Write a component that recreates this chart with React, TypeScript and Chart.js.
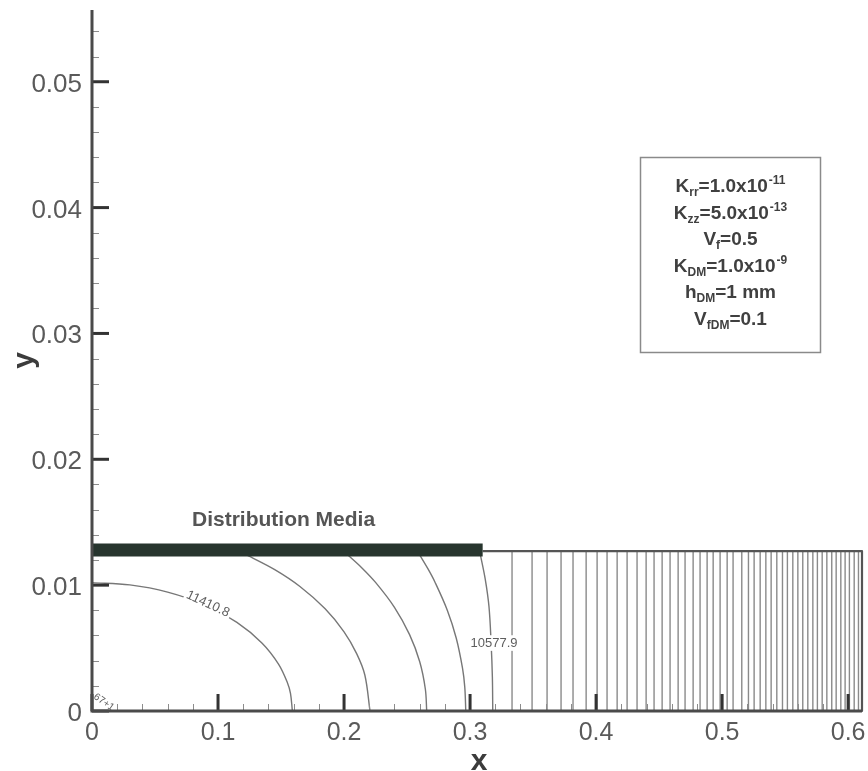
import React, { useEffect, useRef } from "react";
import { Chart, registerables } from "chart.js";

Chart.register(...registerables);

// Axis ranges (metres)
const X_MAX = 0.611;
const Y_MAX = 0.0557;

const X_TICKS = [0, 0.1, 0.2, 0.3, 0.4, 0.5, 0.6];
const X_TICK_LABELS = ["0", "0.1", "0.2", "0.3", "0.4", "0.5", "0.6"];
const Y_TICKS = [0, 0.01, 0.02, 0.03, 0.04, 0.05];
const Y_TICK_LABELS = ["0", "0.01", "0.02", "0.03", "0.04", "0.05"];
const X_MINOR_STEP = 0.02;
const Y_MINOR_STEP = 0.002;

// Part geometry
const PREFORM_TOP = 0.0127;
const DM_LENGTH = 0.31;
const DM_LEVEL = 0.0128;

// Isobars under the distribution media: [x, y]
const ISOBAR_11410 = [
  [0, 0.0102], [0.03, 0.01002], [0.06, 0.00945], [0.09, 0.00841], [0.115, 0.00704],
  [0.135, 0.00539], [0.148, 0.00373], [0.155, 0.00227], [0.1575, 0.0014], [0.159, 0],
];
const ISOBAR_2 = [
  [0.1227, 0.0124], [0.145, 0.01123], [0.165, 0.00989], [0.185, 0.00812], [0.2, 0.00629],
  [0.21, 0.00456], [0.2165, 0.00286], [0.2206, 0],
];
const ISOBAR_3 = [
  [0.203, 0.0124], [0.214, 0.01139], [0.225, 0.01022], [0.24, 0.00824], [0.252, 0.00607],
  [0.26, 0.00393], [0.2645, 0.00175], [0.2656, 0],
];
const ISOBAR_4 = [
  [0.26, 0.0124], [0.2665, 0.01131], [0.272, 0.01027], [0.282, 0.00799], [0.289, 0.0058],
  [0.294, 0.0034], [0.2958, 0.0019], [0.2966, 0],
];
const ISOBAR_10577 = [
  [0.308, 0.0125], [0.312, 0.0105], [0.315, 0.0083], [0.3167, 0.0054], [0.3177, 0.0027], [0.318, 0],
];

// Through-thickness isobars ahead of the media tip (x positions)
const FRONT_ISOBARS_X = [
  0.3333, 0.3492, 0.3611, 0.3722, 0.3817, 0.3921, 0.4008, 0.4087, 0.4167, 0.4246,
  0.4325, 0.4397, 0.446, 0.4524, 0.4587, 0.4651, 0.4706, 0.477, 0.4825, 0.4881,
  0.4929, 0.4984, 0.504, 0.5087, 0.5156, 0.5209, 0.5254, 0.5302, 0.5347, 0.5389,
  0.5434, 0.5479, 0.5518, 0.5561, 0.5601, 0.564, 0.568, 0.572, 0.5756, 0.5794,
  0.5831, 0.587, 0.5905, 0.5942, 0.5976, 0.601, 0.6048, 0.6082,
];

// Material parameters box: [symbol, subscript, value, superscript]
const PARAM_LINES = [
  ["K", "rr", "=1.0x10", "-11"],
  ["K", "zz", "=5.0x10", "-13"],
  ["V", "f", "=0.5", ""],
  ["K", "DM", "=1.0x10", "-9"],
  ["h", "DM", "=1 mm", ""],
  ["V", "fDM", "=0.1", ""],
];

const FONT = '"Liberation Sans", Arial, Helvetica, sans-serif';
const CONTOUR_COLOR = "#777777";
const AXIS_COLOR = "#4a4a4a";

const toPts = (arr: number[][]) => arr.map(([x, y]) => ({ x, y }));

const curve = (pts: number[][]) => ({
  data: toPts(pts),
  borderColor: CONTOUR_COLOR,
  borderWidth: 1.4,
  tension: 0.35,
  showLine: true,
  pointRadius: 0,
  clip: false as const,
  order: 3,
});

function drawLabel(ctx: CanvasRenderingContext2D, text: string, px: number, py: number, angle: number, size: number) {
  ctx.save();
  ctx.translate(px, py);
  ctx.rotate(angle);
  ctx.font = `${size}px ${FONT}`;
  const w = ctx.measureText(text).width;
  ctx.fillStyle = "#ffffff";
  ctx.fillRect(-w / 2 - 2, -size * 0.6, w + 4, size * 1.2);
  ctx.fillStyle = "#5e5e5e";
  ctx.textAlign = "center";
  ctx.textBaseline = "middle";
  ctx.fillText(text, 0, 0);
  ctx.restore();
}

const decorPlugin = {
  id: "decor",
  afterDatasetsDraw(chart: any) {
    const { ctx, scales } = chart;
    const xs = scales.x;
    const ys = scales.y;
    drawLabel(ctx, "11410.8", xs.getPixelForValue(0.092), ys.getPixelForValue(0.0085), 0.44, 13);
    drawLabel(ctx, "10577.9", xs.getPixelForValue(0.319), ys.getPixelForValue(0.0054), 0, 13);
    drawLabel(ctx, "67+1", xs.getPixelForValue(0.0095), ys.getPixelForValue(0.0007), 0.6, 10);
  },
  afterDraw(chart: any) {
    const { ctx, scales } = chart;
    const xs = scales.x;
    const ys = scales.y;
    const x0 = xs.getPixelForValue(0);
    const y0 = ys.getPixelForValue(0);
    ctx.save();

    // minor ticks
    ctx.strokeStyle = "#8c8c8c";
    ctx.lineWidth = 1;
    for (let v = Y_MINOR_STEP; v < Y_MAX; v += Y_MINOR_STEP) {
      if (Math.abs(v / 0.01 - Math.round(v / 0.01)) < 1e-6) continue;
      const py = Math.round(ys.getPixelForValue(v)) + 0.5;
      ctx.beginPath();
      ctx.moveTo(x0, py);
      ctx.lineTo(x0 + 7, py);
      ctx.stroke();
    }
    for (let v = X_MINOR_STEP; v < X_MAX; v += X_MINOR_STEP) {
      if (Math.abs(v / 0.1 - Math.round(v / 0.1)) < 1e-6) continue;
      const px = Math.round(xs.getPixelForValue(v)) + 0.5;
      ctx.beginPath();
      ctx.moveTo(px, y0);
      ctx.lineTo(px, y0 - 7);
      ctx.stroke();
    }

    // major ticks
    ctx.strokeStyle = "#333333";
    ctx.lineWidth = 3;
    Y_TICKS.forEach((v) => {
      const py = ys.getPixelForValue(v);
      ctx.beginPath();
      ctx.moveTo(x0, py);
      ctx.lineTo(x0 + 17, py);
      ctx.stroke();
    });
    X_TICKS.forEach((v) => {
      const px = xs.getPixelForValue(v);
      ctx.beginPath();
      ctx.moveTo(px, y0);
      ctx.lineTo(px, y0 - 17);
      ctx.stroke();
    });

    // axis lines
    ctx.strokeStyle = AXIS_COLOR;
    ctx.lineWidth = 3;
    ctx.beginPath();
    ctx.moveTo(x0, ys.getPixelForValue(Y_MAX));
    ctx.lineTo(x0, y0);
    ctx.lineTo(xs.getPixelForValue(X_MAX), y0);
    ctx.stroke();

    // tick labels
    ctx.fillStyle = "#5a5a5a";
    ctx.font = `26px ${FONT}`;
    ctx.textAlign = "right";
    ctx.textBaseline = "alphabetic";
    Y_TICKS.forEach((v, i) => {
      ctx.fillText(Y_TICK_LABELS[i], x0 - 10, ys.getPixelForValue(v) + 10);
    });
    ctx.font = `25px ${FONT}`;
    ctx.textAlign = "center";
    X_TICKS.forEach((v, i) => {
      ctx.fillText(X_TICK_LABELS[i], xs.getPixelForValue(v), y0 + 29);
    });

    // axis titles
    ctx.fillStyle = "#3c3c3c";
    ctx.font = `bold 30px ${FONT}`;
    ctx.textAlign = "center";
    ctx.fillText("x", (xs.left + xs.right) / 2 + 2, y0 + 59);
    ctx.save();
    ctx.translate(33, (ys.top + ys.bottom) / 2);
    ctx.rotate(-Math.PI / 2);
    ctx.fillText("y", 0, 0);
    ctx.restore();

    // distribution media caption
    ctx.fillStyle = "#555555";
    ctx.font = `bold 21px ${FONT}`;
    ctx.textAlign = "center";
    ctx.fillText("Distribution Media", xs.getPixelForValue(0.152), ys.getPixelForValue(DM_LEVEL) - 24);

    // material parameters box
    const bx = 640.5, by = 157.5, bw = 180, bh = 195;
    ctx.strokeStyle = "#8a8a8a";
    ctx.lineWidth = 1.5;
    ctx.strokeRect(bx, by, bw, bh);
    const cx = bx + bw / 2;
    const main = `bold 19px ${FONT}`;
    const small = `bold 12px ${FONT}`;
    ctx.fillStyle = "#404040";
    ctx.textAlign = "left";
    PARAM_LINES.forEach(([sym, sub, val, sup], i) => {
      const base = 192 + i * 26.6;
      ctx.font = main;
      const w1 = ctx.measureText(sym).width;
      const w3 = ctx.measureText(val).width;
      ctx.font = small;
      const w2 = ctx.measureText(sub).width;
      const w4 = sup ? ctx.measureText(sup).width + 1 : 0;
      let px = cx - (w1 + w2 + w3 + w4) / 2;
      ctx.font = main;
      ctx.fillText(sym, px, base);
      px += w1;
      ctx.font = small;
      ctx.fillText(sub, px, base + 4);
      px += w2;
      ctx.font = main;
      ctx.fillText(val, px, base);
      px += w3;
      if (sup) {
        ctx.font = small;
        ctx.fillText(sup, px + 1, base - 8);
      }
    });

    ctx.restore();
  },
};

export default function App() {
  const canvasRef = useRef<HTMLCanvasElement | null>(null);

  useEffect(() => {
    const canvas = canvasRef.current;
    if (!canvas) return;

    const frontSets = FRONT_ISOBARS_X.map((xv) => ({
      data: [{ x: xv, y: 0 }, { x: xv, y: PREFORM_TOP }],
      borderColor: "#8a8a8a",
      borderWidth: 1.4,
      showLine: true,
      pointRadius: 0,
      clip: false as const,
      order: 3,
    }));

    const chart = new Chart(canvas, {
      type: "scatter",
      data: {
        datasets: [
          {
            // distribution media layer
            data: [{ x: 0, y: DM_LEVEL }, { x: DM_LENGTH, y: DM_LEVEL }],
            borderColor: "#27352e",
            borderWidth: 13,
            borderCapStyle: "butt",
            showLine: true,
            pointRadius: 0,
            clip: false,
            order: 0,
          },
          {
            // preform outline beyond the media
            data: [
              { x: DM_LENGTH, y: PREFORM_TOP },
              { x: X_MAX, y: PREFORM_TOP },
              { x: X_MAX, y: 0 },
            ],
            borderColor: "#555555",
            borderWidth: 2.2,
            borderJoinStyle: "round",
            showLine: true,
            pointRadius: 0,
            clip: false,
            order: 1,
          },
          curve(ISOBAR_11410),
          curve(ISOBAR_2),
          curve(ISOBAR_3),
          curve(ISOBAR_4),
          curve(ISOBAR_10577),
          ...frontSets,
        ] as any,
      },
      options: {
        animation: false,
        responsive: false,
        maintainAspectRatio: false,
        layout: { padding: { left: 92, right: 6, top: 10, bottom: 60 } },
        scales: {
          x: { type: "linear", min: 0, max: X_MAX, display: false },
          y: { type: "linear", min: 0, max: Y_MAX, display: false },
        },
        plugins: { legend: { display: false }, tooltip: { enabled: false } },
        events: [],
      },
      plugins: [decorPlugin],
    });

    return () => chart.destroy();
  }, []);

  return (
    <div style={{ position: "absolute", left: 0, top: 0, width: 868, height: 771, background: "#ffffff" }}>
      <canvas ref={canvasRef} width={868} height={771} style={{ display: "block" }} />
    </div>
  );
}
